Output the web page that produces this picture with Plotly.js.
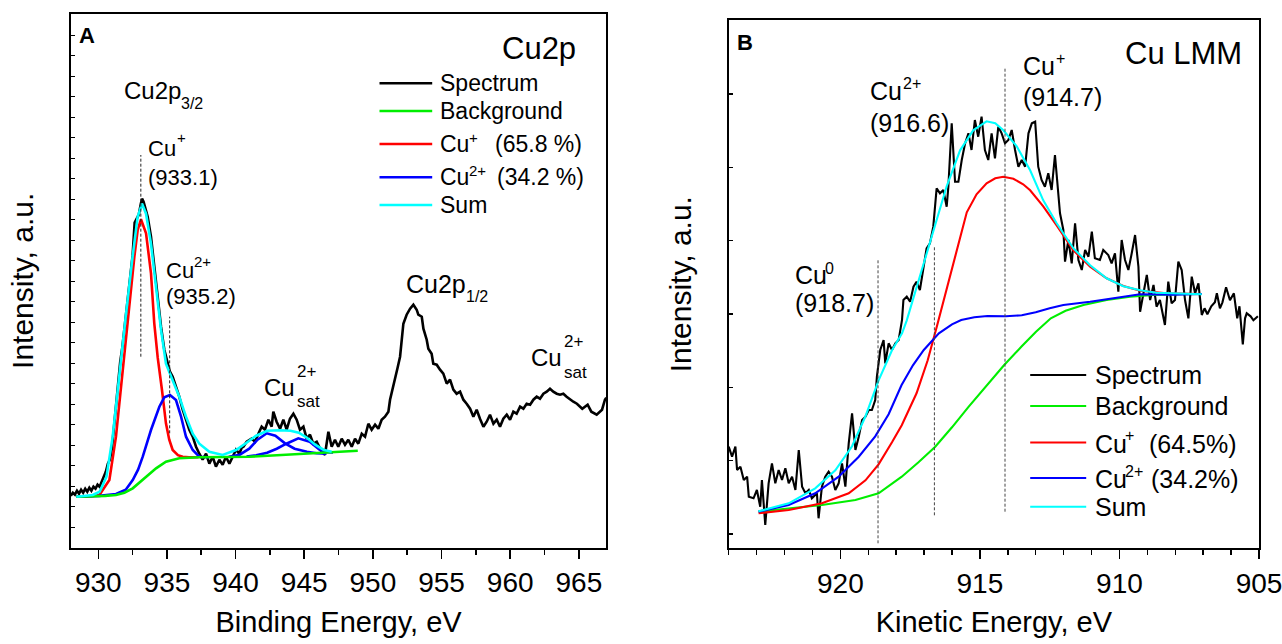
<!DOCTYPE html>
<html><head><meta charset="utf-8">
<script src="https://cdn.plot.ly/plotly-3.0.1.min.js"></script>
<style>html,body{margin:0;padding:0;background:#fff}#chart{width:1282px;height:644px}</style>
</head><body><div id="chart"></div>
<script>
// ---------- Panel A: Cu2p (binding energy, eV) ----------
const specA_x = [928.0,928.15,928.3,928.45,928.6,928.75,928.9,929.05,929.2,929.35,929.5,929.65,929.8,929.95,930.1,930.25,930.4,930.55,930.7,930.85,931.0,931.15,931.3,931.45,931.6,931.75,931.9,932.05,932.2,932.35,932.5,932.65,932.8,932.95,933.1,933.19,933.3,933.45,933.6,933.84,934.08,934.33,934.57,934.81,935.05,935.22,935.42,935.66,935.9,936.15,936.39,936.63,936.88,937.12,937.36,937.6,937.85,938.09,938.33,938.57,938.82,939.06,939.3,939.55,939.79,940.03,940.27,940.45,940.57,940.81,941.17,941.42,941.66,941.9,942.14,942.39,942.63,942.75,942.99,943.24,943.48,943.72,943.96,944.21,944.45,944.69,944.94,945.18,945.42,945.66,945.91,946.27,946.51,946.76,947.0,947.24,947.48,947.73,947.97,948.21,948.46,948.7,948.94,949.19,949.43,949.67,949.91,950.16,950.4,950.64,950.88,951.13,951.25,951.49,951.61,951.8,951.98,952.1,952.22,952.46,952.71,952.95,953.19,953.31,953.56,953.68,953.92,954.04,954.28,954.4,954.65,954.89,955.13,955.38,955.62,955.86,956.1,956.35,956.59,956.83,957.08,957.32,957.56,957.8,958.05,958.29,958.53,958.78,959.02,959.26,959.5,959.75,959.99,960.23,960.47,960.72,960.96,961.2,961.45,961.69,961.93,962.17,962.42,962.66,962.9,963.14,963.39,963.63,963.87,964.11,964.36,964.6,964.86,965.25,965.64,965.91,966.3,966.69,966.9,967.0];
const specA_y = [52,55,53,57,54,58,55,59,56,60,57,61,59,63,61,66,70,76,84,88,100,122,148,163,186,200,218,236,253,270,292,325,329,333,344,349,346,339,331,311,281,248,221,198,184,176,171,161,151,138,128,118,111,101,94,88,94,84,91,81,88,83,91,84,91,98,94,100,101,106,109,106,114,121,118,128,121,136,126,119,128,118,129,134,128,118,121,109,113,104,106,96,93,116,101,108,101,109,103,108,101,109,104,114,111,124,118,123,119,128,131,136,148,161,168,180,191,208,224,233,239,243,238,233,231,219,208,199,194,184,183,178,174,164,168,158,154,156,148,144,139,131,138,129,121,126,133,124,128,121,129,133,128,136,134,141,139,144,143,148,151,149,154,156,159,156,154,153,154,151,148,146,144,139,143,136,133,138,148,150];

const bgA_x = [928.4,929.5,930.5,931.29,931.9,932.51,933.0,933.48,934.21,934.93,935.9,937.36,939.0,941.0,943.0,945.0,947.0,948.9];
const bgA_y = [51,51.3,51.8,52.7,55,59.4,65,71,79.4,86,89.4,90.4,90.8,91,92.5,94,95.5,97];

const cu1A_x = [928.4,929.5,930.08,930.81,931.29,931.78,932.26,932.63,932.87,933.11,933.48,933.84,934.08,934.33,934.64,934.93,935.17,935.42,935.8,936.15,936.6,937.3];
const cu1A_y = [51,51.5,52.7,67.7,111,177.7,244.4,291,317.7,328.4,314.4,274.4,224.4,190,157.7,124.4,108,97.7,92.5,91,90.4,90.4];

const cu2A_x = [928.4,930.08,931.29,932.0,932.51,932.9,933.24,933.84,934.45,934.81,935.22,935.66,936.03,936.39,936.88,937.36,938.09];
const cu2A_y = [51,51.8,53.7,58,67.7,78,91,117.7,141,150.4,152.7,147.7,131,111,97.7,91,90.5];

const satA1_x = [939.5,940.3,941.0,941.6,942.27,942.9,943.6,944.3,945.2,945.9,946.6];
const satA1_y = [90.9,93,99,108,114.4,112,104.4,99,96,94.5,94];
const satA2_x = [940.8,941.5,942.3,943.0,943.7,944.57,945.4,946.15,946.7,947.1];
const satA2_y = [91.2,92.5,95,99,104,109.4,106,97.7,95.5,95.3];

const sumA_x = [928.4,929.0,929.6,930.1,930.6,931.05,931.5,932.0,932.5,932.87,933.19,933.48,933.84,934.21,934.57,934.93,935.42,935.9,936.39,936.88,937.36,938.09,939.06,940.03,940.8,941.5,942.3,943.2,944.0,944.6,945.2,945.8,946.4,947.0];
const sumA_y = [51,51.5,52.7,56,71,111,171,231,291,331,344,334,304,258,218,184,168,151,131,114,104,96,92.7,97.7,105,112,117,117.5,117,115,110,103,98,96];

const peakA = [933.1, 935.2];

// ---------- Panel B: Cu LMM (kinetic energy, eV) ----------
const specB_x = [924.0,923.88,923.76,923.7,923.58,923.46,923.34,923.28,923.11,922.99,922.87,922.81,922.69,922.57,922.45,922.33,922.21,922.09,921.97,921.85,921.73,921.61,921.49,921.37,921.25,921.13,921.02,920.84,920.78,920.66,920.54,920.42,920.3,920.18,920.06,919.94,919.82,919.7,919.58,919.46,919.34,919.22,919.1,918.98,918.87,918.75,918.69,918.57,918.45,918.39,918.27,918.15,918.03,917.91,917.79,917.74,917.62,917.5,917.38,917.27,917.15,917.03,916.91,916.79,916.67,916.55,916.43,916.31,916.19,916.13,916.01,915.89,915.77,915.65,915.53,915.41,915.3,915.18,915.06,914.94,914.82,914.7,914.58,914.46,914.34,914.22,914.1,913.98,913.86,913.74,913.62,913.5,913.38,913.26,913.14,913.02,912.91,912.79,912.67,912.55,912.43,912.31,912.19,912.13,912.01,911.95,911.83,911.71,911.59,911.47,911.35,911.23,911.11,910.99,910.88,910.7,910.58,910.4,910.28,910.16,910.04,909.92,909.8,909.68,909.56,909.44,909.32,909.26,909.14,909.02,908.9,908.78,908.67,908.55,908.37,908.25,908.13,908.01,907.89,907.77,907.65,907.53,907.41,907.29,907.17,907.05,906.95,906.85,906.71,906.58,906.51,906.4,906.31,906.18,906.04,905.9,905.78,905.7,905.58,905.5,905.44,905.3,905.2,905.04];
const specB_y = [101.6,91.6,101.6,78.3,81.6,68.3,71.6,51.6,50,58.3,41.6,68.3,23.3,65,85,65,78.3,68.3,80,65,71.6,58.3,98.3,61.6,55,58.3,50,55,30,61.6,71.6,76.6,71.6,58.3,65,85,61.6,105,135,98.3,111.6,128.3,131.6,138.3,138.3,148.3,171.6,198.3,208.3,185,205,198.3,205,208.3,228.3,248.3,251.6,246.6,261.6,266.6,258.3,278.3,300,305,321.6,360,355,358.3,341.6,361.6,425,366.6,366.6,388.3,405,415,398.3,428.3,411.6,431.6,398.3,388.3,415,390,421.6,415,405,408.3,418.3,398.3,381.6,388.3,381.6,415,425,426.6,381.6,368.3,361.6,375,358.3,393.3,348.3,335,318.3,286.6,308.3,285,325,288.3,278.3,298.3,291.6,316.6,290,288.3,298.3,293.3,285,295,256.6,308.3,288.3,278.3,295,313.3,281.6,236.6,255,273.3,248.3,263.3,241.6,248.3,223.3,266.6,245,248.3,286.6,278.3,248.3,230,271.6,255,265,233.3,240,234,242,246,255,240,246,261,248,255,230,242,204,230,235,232,228,232];

const bgB_x = [922.93,921.85,920.66,919.46,918.63,917.8,917.2,916.6,916.0,915.4,914.75,914.13,913.5,912.99,912.46,911.93,911.29,910.46,909.62,908.8,907.9,907.05];
const bgB_y = [36.7,40,43.3,48.3,55,71.6,86,101.6,121,141.6,163,183.3,202,216.6,230,237.5,243.3,248.3,251.6,253.3,254,254.3];

const cu1B_x = [922.93,921.85,920.66,919.7,919.1,918.63,918.15,917.8,917.27,916.87,916.54,916.2,915.83,915.47,915.12,914.76,914.45,914.16,913.8,913.45,913.2,912.73,912.25,911.65,911.05,910.46,909.86,909.26,908.31,907.05];
const cu1B_y = [35,38.3,45,55,68,84,106,123,155,188,222,258,300,336,354,365,370,371.5,369.5,364,358,342,323,298,281.6,270,262.3,257.6,255,254.3];

const cu2B_x = [922.93,921.85,920.9,920.06,919.34,918.75,918.27,917.81,917.4,917.01,916.47,916.0,915.67,915.2,914.73,914.07,913.5,913.0,912.5,912.01,911.05,910.22,909.26,908.07,907.05];
const cu2B_y = [36.7,43.3,55,71.6,91.6,112,134,163,183,198.3,215,224,228.3,231,232.3,232,233,236,240,243.3,246.6,250,254,253.5,254.3];

const sumB_x = [922.93,921.85,920.9,920.18,919.58,919.1,918.63,918.15,917.79,917.62,917.15,916.61,916.19,915.71,915.24,914.76,914.45,914.16,913.68,913.2,912.73,912.25,911.65,911.05,910.46,909.86,909.26,908.67,907.9,907.05];
const sumB_y = [37,45,60,78,102,132,168,198,215,228,272,322,362,398,418,427,425,418,402,378,348,325,300,283,270,262,258,255.6,254.5,254];

const peakB = [918.65, 916.63, 914.1];

// ---------- Legend / label text ----------
const legendNames = ['Spectrum','Background','Cu','Cu','Sum'];
const legendSup = ['','','+','2+',''];
const legendPctA = ['','','(65.8 %)','(34.2 %)',''];
const legendPctB = ['','','(64.5%)','(34.2%)',''];
const seriesColors = ['#000000','#00ee00','#ff0000','#0000ff','#00ffff'];
const xTitleA = 'Binding Energy, eV';
const xTitleB = 'Kinetic Energy, eV';
const yTitle = 'Intensity, a.u.';

// ---------- helpers (pixel -> paper) ----------
const W = 1282, H = 644;
const PX = v => v / W;
const PY = v => 1 - v / H;
const FONT = 'Liberation Sans, Arial, Helvetica, sans-serif';

const lwA = 2.6, lwB = 2.1;
function ln(x, y, color, w, xa, ya) {
  return {x: x, y: y, type: 'scatter', mode: 'lines', line: {color: color, width: w, shape: 'linear'},
          xaxis: xa, yaxis: ya, showlegend: false, hoverinfo: 'skip'};
}
const traces = [
  ln(specA_x, specA_y, seriesColors[0], lwA, 'x', 'y'),
  ln(cu1A_x, cu1A_y, seriesColors[2], lwA, 'x', 'y'),
  ln(cu2A_x, cu2A_y, seriesColors[3], lwA, 'x', 'y'),
  ln(satA1_x, satA1_y, seriesColors[3], lwA, 'x', 'y'),
  ln(satA2_x, satA2_y, seriesColors[3], lwA, 'x', 'y'),
  ln(bgA_x, bgA_y, seriesColors[1], lwA, 'x', 'y'),
  ln(sumA_x, sumA_y, seriesColors[4], lwA, 'x', 'y'),
  ln(specB_x, specB_y, seriesColors[0], lwB, 'x2', 'y2'),
  ln(bgB_x, bgB_y, seriesColors[1], lwB, 'x2', 'y2'),
  ln(cu1B_x, cu1B_y, seriesColors[2], lwB, 'x2', 'y2'),
  ln(cu2B_x, cu2B_y, seriesColors[3], lwB, 'x2', 'y2'),
  ln(sumB_x, sumB_y, seriesColors[4], lwB, 'x2', 'y2')
];

function xax(domain, range, tick0, minorDt, title) {
  return {domain: domain, range: range, tick0: tick0, dtick: 5, showgrid: false, zeroline: false,
    showline: true, linecolor: '#000', linewidth: 2, mirror: true,
    ticks: 'outside', ticklen: 9, tickwidth: 1.5, tickcolor: '#000', ticklabeloverflow: 'allow',
    minor: {dtick: minorDt, tick0: tick0, ticks: 'outside', ticklen: 5, tickwidth: 1.5, tickcolor: '#000', showgrid: false},
    tickfont: {family: FONT, size: 28, color: '#000'},
    title: {text: title, font: {family: FONT, size: 29, color: '#000'}, standoff: 14}};
}
function yax(domain, range, tick0, dt) {
  return {domain: domain, range: range, tick0: tick0, dtick: dt, showgrid: false, zeroline: false,
    showline: true, linecolor: '#000', linewidth: 2, mirror: true,
    ticks: 'inside', ticklen: 4, tickwidth: 1.2, tickcolor: '#000', showticklabels: false,
    title: {text: yTitle, font: {family: FONT, size: 30, color: '#000'}, standoff: 26}};
}

const xaxis = xax([PX(70.8), PX(606.3)], [928, 967], 930, 2.5, xTitleA); xaxis.anchor = 'y';
const yaxis = yax([PY(547.7), PY(14)], [0, 533.7], 0, 20.5); yaxis.anchor = 'x';
const xaxis2 = xax([PX(728.7), PX(1259)], [924, 905], 905, 1, xTitleB); xaxis2.anchor = 'y2';
const yaxis2 = yax([PY(548.3), PY(20)], [0, 528.3], 14.3, 73.33); yaxis2.anchor = 'x2';

// ---------- annotations ----------
const ann = [];
function T(text, x, y, size, bold) {
  ann.push({text: text, x: PX(x), y: PY(y), xref: 'paper', yref: 'paper', xanchor: 'left', yanchor: 'middle',
    showarrow: false, font: {family: FONT, size: size, color: '#000', weight: bold ? 'bold' : 'normal'}});
}
// Panel A
T('A', 77, 35, 22, true);
T('Cu2p', 500, 48, 31);
T('Cu2p', 121.5, 91, 24);   T('3/2', 179, 104, 16);
T('Cu', 146, 148, 22);      T('+', 174.5, 137.5, 15);
T('(933.1)', 146, 177, 22);
T('Cu', 164, 270, 22);      T('2+', 192, 261.5, 15);
T('(935.2)', 164, 297, 22);
T('Cu2p', 403.5, 284, 25);  T('1/2', 463.5, 297, 16);
T('Cu', 261.5, 387, 24);    T('2+', 294.5, 371, 17);   T('sat', 294.5, 401, 17);
T('Cu', 529, 357, 24);      T('2+', 561.5, 342, 17);   T('sat', 561.5, 372, 17);
// Panel B
T('B', 734.5, 42.5, 22, true);
T('Cu LMM', 1122.5, 53.5, 31);
T('Cu', 868.5, 91, 25);     T('2+', 901, 83.5, 16);
T('(916.6)', 868.5, 122.5, 25);
T('Cu', 1020.5, 66, 25);    T('+', 1053.5, 58.5, 16);
T('(914.7)', 1020.5, 97, 25);
T('Cu', 792.5, 275, 25);    T('0', 823, 268.5, 16);
T('(918.7)', 792.5, 303, 25);

// ---------- hand-drawn legends ----------
const shapes = [];
const legA_y = [83.3, 111, 144, 177.3, 205];
const legB_y = [375, 406, 442.5, 478, 506.7];
legendNames.forEach((nm, i) => {
  shapes.push({type: 'line', xref: 'paper', yref: 'paper', x0: PX(379.5), x1: PX(432.2), y0: PY(legA_y[i]), y1: PY(legA_y[i]),
    line: {color: seriesColors[i], width: 2.6}});
  T(nm, 437.5, legA_y[i], 23);
  if (legendSup[i]) T(legendSup[i], 467, legA_y[i] - 7, 15);
  if (legendPctA[i]) T(legendPctA[i], i === 2 ? 493 : 495, legA_y[i], 23);
  shapes.push({type: 'line', xref: 'paper', yref: 'paper', x0: PX(1030.2), x1: PX(1086.2), y0: PY(legB_y[i]), y1: PY(legB_y[i]),
    line: {color: seriesColors[i], width: 2.1}});
  T(nm, 1092.5, legB_y[i] + (legendSup[i] ? 1 : 0), 25);
  if (legendSup[i]) T(legendSup[i], 1123, legB_y[i] - 6.5, 16);
  if (legendPctB[i]) T(legendPctB[i], i === 2 ? 1146.5 : 1148.5, legB_y[i] + 1, 25);
});

// ---------- dashed peak markers ----------
const dashA = [[191, 392.7], [114.4, 231]];
peakA.forEach((p, i) => shapes.push({type: 'line', xref: 'x', yref: 'y', x0: p, x1: p, y0: dashA[i][0], y1: dashA[i][1],
  line: {color: '#222', width: 1, dash: '3px,2px'}}));
const dashB = [[5, 288], [33, 301.6], [36.6, 480]];
peakB.forEach((p, i) => shapes.push({type: 'line', xref: 'x2', yref: 'y2', x0: p, x1: p, y0: dashB[i][0], y1: dashB[i][1],
  line: {color: '#444', width: 1, dash: '3px,2px'}}));

const layout = {
  width: W, height: H, margin: {l: 0, r: 0, t: 0, b: 0},
  paper_bgcolor: '#fff', plot_bgcolor: '#fff', showlegend: false,
  font: {family: FONT, color: '#000'},
  xaxis: xaxis, yaxis: yaxis, xaxis2: xaxis2, yaxis2: yaxis2,
  annotations: ann, shapes: shapes
};
Plotly.newPlot('chart', traces, layout, {staticPlot: true, displayModeBar: false});
</script></body></html>
